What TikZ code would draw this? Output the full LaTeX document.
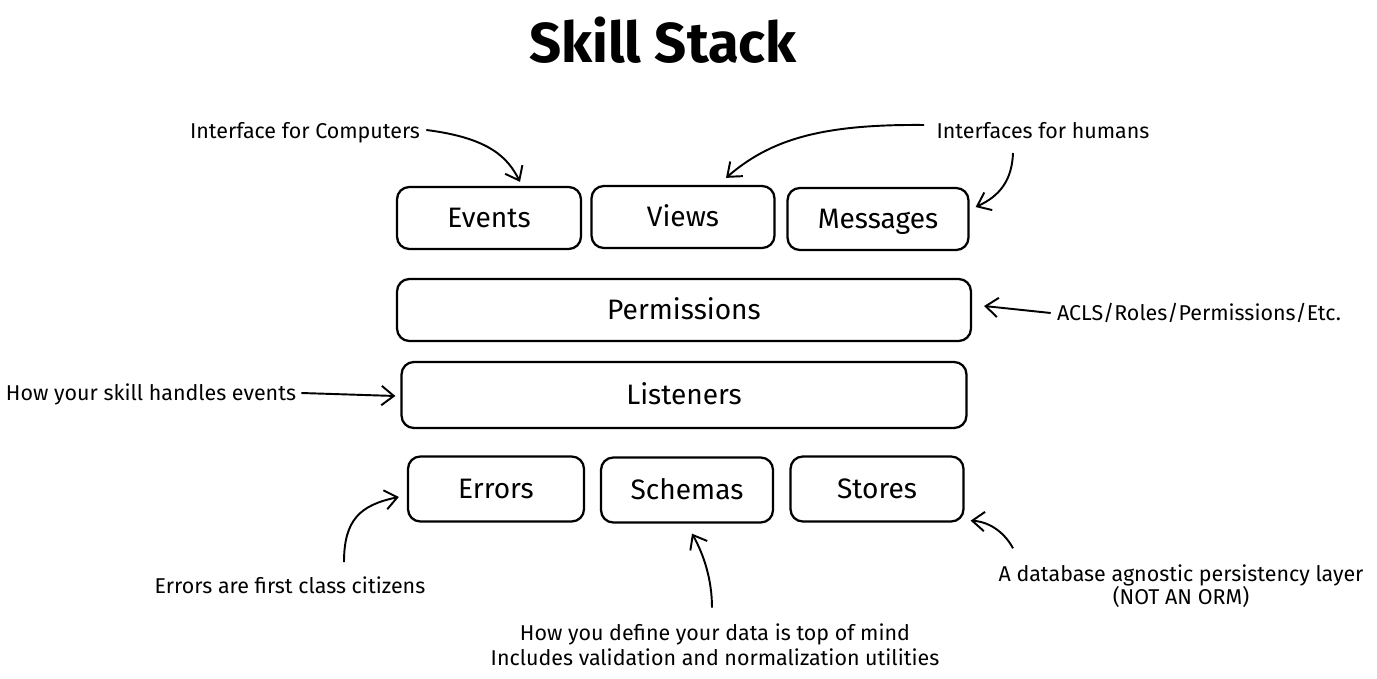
\documentclass[tikz,border=0pt]{standalone}
\usepackage{fontspec}
\setmainfont{Fira Sans}
\usetikzlibrary{calc,arrows.meta}
\tikzset{
	layer/.style={draw, line width=1.3pt, rounded corners=7pt, minimum height=1.24cm, inner sep=0pt, text height=11pt, text depth=0pt, font=\fontsize{16}{19}\selectfont},
	note/.style={font=\fontsize{12.2}{14.2}\selectfont, align=center, inner sep=0pt},
	pointer/.style={line width=1.1pt, -{Straight Barb[length=7pt, width=11pt, line width=1.1pt]}},
}

\begin{document}
\begin{tikzpicture}[x=0.02cm, y=-0.02cm]
		%%%%% START %%%%%
		
		\useasboundingbox (0, 0) rectangle (1377, 679);
		
		\node[font=\fontsize{32}{36}\selectfont\bfseries] (title) at (663, 40) {Skill Stack};
		
		\node[layer, minimum width=3.68cm] (events) at (489, 218) {Events};
		\node[layer, minimum width=3.66cm] (views) at (683, 217) {Views};
		\node[layer, minimum width=3.62cm] (messages) at (878, 219) {Messages};
		
		\node[layer, minimum width=11.48cm] (permissions) at (684, 310) {Permissions};
		\node[layer, minimum width=11.30cm, minimum height=1.32cm] (listeners) at (684, 395) {Listeners};
		
		\node[layer, minimum width=3.52cm, minimum height=1.30cm] (errors) at (496, 489) {Errors};
		\node[layer, minimum width=3.44cm, minimum height=1.30cm] (schemas) at (687, 490) {Schemas};
		\node[layer, minimum width=3.46cm, minimum height=1.30cm] (stores) at (877, 489) {Stores};
		
		\node[note] (computers) at (305, 133) {Interface for Computers};
		\node[note] (humans) at (1043, 131) {Interfaces for humans};
		\node[note] (acls) at (1199, 313) {ACLS/Roles/Permissions/Etc.};
		\node[note] (handles) at (151, 394) {How your skill handles events};
		\node[note] (citizens) at (290, 585) {Errors are first class citizens};
		\node[note] (data) at (715, 645) {How you define your data is top of mind\\Includes validation and normalization utilities};
		\node[note, font=\fontsize{12.2}{13}\selectfont] (persist) at (1181, 586) {A database agnostic persistency layer\\(NOT AN ORM)};
		
		\draw[pointer] ($(computers.east)+(6, -3)$) .. controls (490, 138) and (508, 158) .. ($(events.north)+(31, -4)$);
		\draw[pointer] ($(humans.west)+(-12, -6)$) .. controls (820, 124) and (770, 140) .. ($(views.north)+(43, -7)$);
		\draw[pointer] ($(humans.center)+(-30, 22)$) .. controls (1012, 180) and (1000, 196) .. ($(messages.east)+(6, -12)$);
		\draw[pointer] ($(acls.west)+(-6, 0)$) -- ($(permissions.east)+(12, -4)$);
		\draw[pointer] ($(handles.east)+(5, -1)$) -- ($(listeners.west)+(-5, 1)$);
		\draw[pointer] ($(citizens.north)+(54, -14)$) .. controls (344, 520) and (360, 505) .. ($(errors.west)+(-8, 8)$);
		\draw[pointer] ($(data.north)+(-3, -16)$) .. controls (712, 580) and (704, 555) .. ($(schemas.south)+(5, 10)$);
		\draw[pointer] ($(persist.north)+(-168, -16)$) .. controls (1006, 535) and (992, 522) .. ($(stores.south east)+(6, -2)$);
		
		%%%%% END %%%%%
	\end{tikzpicture}
\end{document}
